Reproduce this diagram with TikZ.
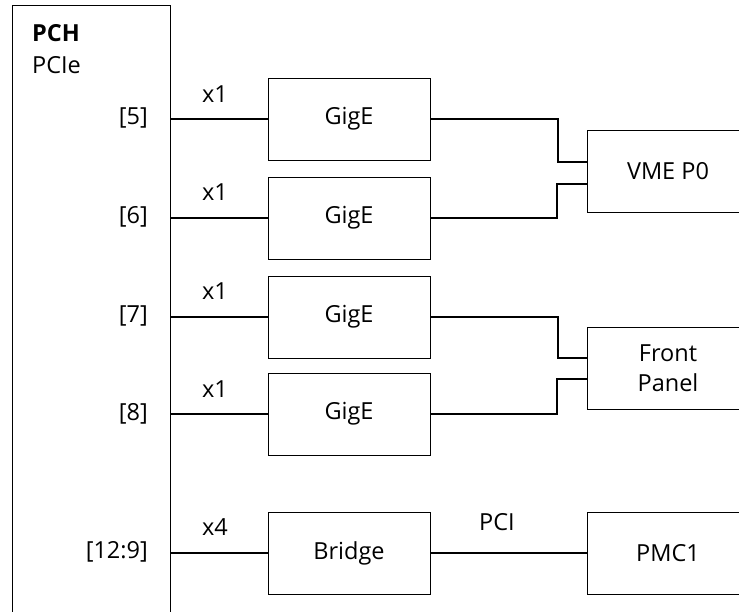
\documentclass[tikz,border=0pt]{standalone}
\usepackage{fontspec}
\setmainfont{Open Sans}
\begin{document}
\begin{tikzpicture}[x=1pt,y=-1pt,
  box/.style={draw,line width=1pt,minimum width=162pt,minimum height=82pt,inner sep=0pt,font=\fontsize{23.5}{27}\selectfont,align=center},
  lbl/.style={font=\fontsize{23.5}{27}\selectfont,inner sep=0pt},
  wire/.style={line width=1.7pt}]
\useasboundingbox (0,0) rectangle (739,611);
\clip (0,0) rectangle (739,611);
\fill[white] (0,0) rectangle (739,611);
% PCH block
\node[draw,line width=1pt,minimum width=158pt,minimum height=660pt,inner sep=0pt,anchor=north west] (pch) at (12,5) {};
\node[lbl,anchor=west,font=\fontsize{23.5}{27}\selectfont\bfseries] (pchname) at (32,33) {PCH};
\node[lbl,anchor=west] (pcie) at (32,65) {PCIe};
% boxes
\node[box] (g1) at (349,119) {GigE};
\node[box] (g2) at (349,218) {GigE};
\node[box] (g3) at (349,317) {GigE};
\node[box] (g4) at (349,414) {GigE};
\node[box] (br) at (349,553) {Bridge};
\node[box] (vme) at (668,171) {VME P0};
\node[box] (fp) at (668,368) {Front\\[3pt]Panel};
\node[box] (pmc) at (668,553) {PMC1};
% port labels
\node[lbl,anchor=east] (p5) at (148,118) {[5]};
\node[lbl,anchor=east] (p6) at (148,217) {[6]};
\node[lbl,anchor=east] (p7) at (148,316) {[7]};
\node[lbl,anchor=east] (p8) at (148,414) {[8]};
\node[lbl,anchor=east] (p12) at (148,552) {[12:9]};
% lane labels
\node[lbl] (x1a) at (215,94) {x1};
\node[lbl] (x1b) at (215,192) {x1};
\node[lbl] (x1c) at (215,291) {x1};
\node[lbl] (x1d) at (215,389) {x1};
\node[lbl] (x4) at (215,527) {x4};
\node[lbl] (pci) at (497,522) {PCI};
% straight wires
\draw[wire] (pch.east |- g1.west) -- (g1.west);
\draw[wire] (pch.east |- g2.west) -- (g2.west);
\draw[wire] (pch.east |- g3.west) -- (g3.west);
\draw[wire] (pch.east |- g4.west) -- (g4.west);
\draw[wire] (pch.east |- br.west) -- (br.west);
\draw[wire] (br.east) -- (pmc.west);
% elbow wires
\coordinate (v1) at (587,162);
\coordinate (v2) at (587,184);
\coordinate (f1) at (587,358);
\coordinate (f2) at (587,379);
\draw[wire] (g1.east) -- (558,119) -- (558,162) -- (v1);
\draw[wire] (g2.east) -- (557,218) -- (557,184) -- (v2);
\draw[wire] (g3.east) -- (558,317) -- (558,358) -- (f1);
\draw[wire] (g4.east) -- (557,414) -- (557,379) -- (f2);
\end{tikzpicture}
\end{document}
